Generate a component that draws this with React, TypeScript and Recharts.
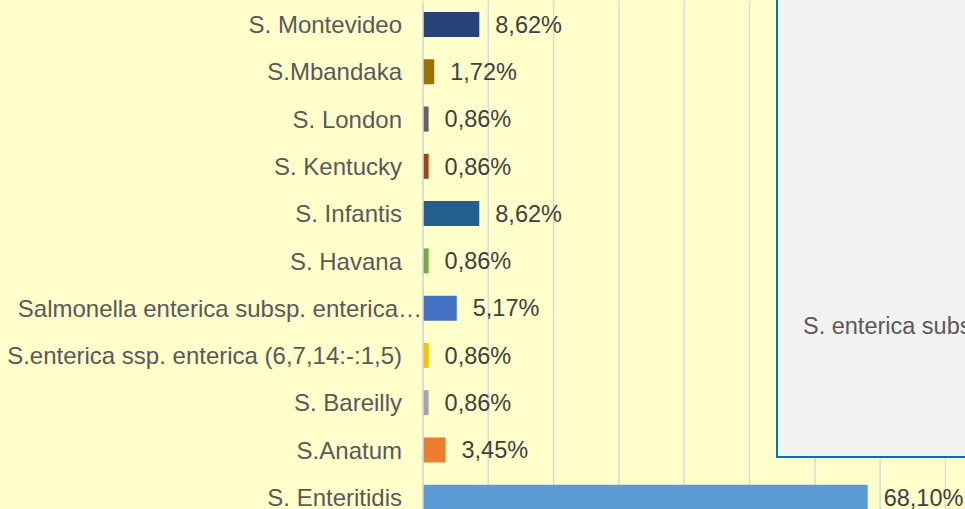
import { BarChart, Bar, XAxis, YAxis, CartesianGrid, Cell, LabelList } from "recharts";

// rows from top to bottom as shown
const serotypes = [
  "S. Montevideo",
  "S.Mbandaka",
  "S. London",
  "S. Kentucky",
  "S. Infantis",
  "S. Havana",
  "Salmonella enterica subsp. enterica…",
  "S.enterica ssp. enterica (6,7,14:-:1,5)",
  "S. Bareilly",
  "S.Anatum",
  "S. Enteritidis",
];
const percents = [8.62, 1.72, 0.86, 0.86, 8.62, 0.86, 5.17, 0.86, 0.86, 3.45, 68.1];
const barColors = [
  "#264478", "#997300", "#636363", "#9E480E", "#255E91", "#70AD47",
  "#4472C4", "#FFC000", "#A5A5A5", "#ED7D31", "#5B9BD5",
];
const xTicks = [0, 10, 20, 30, 40, 50, 60, 70, 80, 90, 100];
const boxText = "S. enterica subsp. enterica";

const data = serotypes.map((name, i) => ({ name, value: percents[i] }));

const FONT = '"Liberation Sans", Arial, sans-serif';

function fmtPct(v: any): string {
  return `${Number(v).toFixed(2).replace(".", ",")}%`;
}

// truncated category names run a bit closer to the axis, like in the original
function CategoryTick(props: any) {
  const { x, y, payload } = props;
  const label = String(payload.value);
  const dx = label.endsWith("…") ? 20 : 0;
  return (
    <text
      x={x + dx}
      y={y}
      dy="0.355em"
      textAnchor="end"
      fontSize={24}
      fill="#595959"
      fontFamily={FONT}
    >
      {label}
    </text>
  );
}

export default function App() {
  return (
    <div
      style={{
        position: "absolute",
        left: 0,
        top: 0,
        width: 965,
        height: 509,
        overflow: "hidden",
        background: "#FFFFCC",
        fontFamily: FONT,
      }}
    >
      <BarChart
        width={1076}
        height={552}
        data={data}
        layout="vertical"
        margin={{ top: 1, right: 0, bottom: 0, left: 0 }}
      >
        <CartesianGrid horizontal={false} stroke="#D9D9D9" strokeWidth={1.5} />
        {/* value axis sits below the visible crop; only its gridlines show */}
        <XAxis
          type="number"
          domain={[0, 100]}
          ticks={xTicks}
          height={31}
          axisLine={false}
          tickLine={false}
          tick={() => <g />}
        />
        <YAxis
          type="category"
          dataKey="name"
          width={423}
          axisLine={{ stroke: "#D9D9D9", strokeWidth: 1.5 }}
          tickLine={false}
          tickSize={6}
          tickMargin={15}
          interval={0}
          tick={<CategoryTick />}
        />
        <Bar dataKey="value" barSize={25} isAnimationActive={false}>
          {data.map((d, i) => (
            <Cell key={d.name} fill={barColors[i]} />
          ))}
          <LabelList
            dataKey="value"
            position="right"
            offset={16}
            formatter={fmtPct}
            style={{ fontSize: 23.5, fill: "#404040", fontFamily: FONT }}
          />
        </Bar>
      </BarChart>

      {/* overlapping text box */}
      <div
        style={{
          position: "absolute",
          left: 776,
          top: -10,
          width: 300,
          height: 464,
          border: "2px solid #0070C0",
          background: "#F2F2F2",
          boxSizing: "content-box",
        }}
      >
        <div
          style={{
            position: "absolute",
            left: 25,
            top: 322,
            whiteSpace: "nowrap",
            fontSize: 23.5,
            lineHeight: "24px",
            color: "#595959",
          }}
        >
          {boxText}
        </div>
      </div>
    </div>
  );
}
